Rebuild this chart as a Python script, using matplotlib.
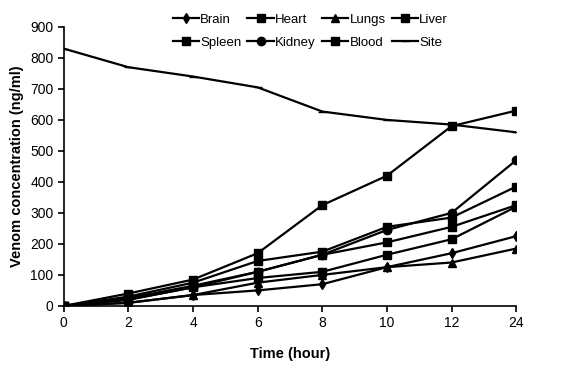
import numpy as np
import matplotlib.pyplot as plt

plt.rcParams['font.family'] = ['Liberation Sans Narrow', 'Liberation Sans', 'DejaVu Sans']

# time points (hours), evenly spaced as categories
times = ["0", "2", "4", "6", "8", "10", "12", "24"]

brain = [0, 10, 35, 50, 70, 125, 170, 225]
heart = [0, 20, 60, 90, 110, 165, 215, 320]
lungs = [0, 10, 35, 75, 100, 125, 140, 185]
liver = [0, 25, 65, 110, 165, 205, 255, 325]
spleen = [0, 30, 75, 145, 175, 255, 285, 385]
kidney = [0, 20, 60, 110, 165, 245, 300, 470]
blood = [0, 40, 85, 170, 325, 420, 580, 630]
site = [830, 770, 740, 705, 627, 600, 585, 560]

x = np.arange(len(times))

fig = plt.figure(figsize=(5.8, 3.69), dpi=100)
ax = fig.add_axes([0.110, 0.171, 0.780, 0.756])

series = [
    ("Brain", brain, "d", 5),
    ("Heart", heart, "s", 6),
    ("Lungs", lungs, "^", 6),
    ("Liver", liver, "s", 6),
    ("Spleen", spleen, "s", 6),
    ("Kidney", kidney, "o", 6),
    ("Blood", blood, "s", 6),
    ("Site", site, "_", 6),
]
handles = {}
for name, vals, m, ms in series:
    line, = ax.plot(x, vals, color="black", lw=1.6, marker=m, ms=ms, label=name)
    handles[name] = line

ax.set_xlim(0, 7)
ax.set_ylim(0, 900)
ax.set_xticks(x)
ax.set_xticklabels(times)
ax.set_yticks(np.arange(0, 901, 100))
ax.tick_params(labelsize=10, length=4, width=1.2, direction="out")
ax.spines["top"].set_visible(False)
ax.spines["right"].set_visible(False)
ax.spines["left"].set_linewidth(1.2)
ax.spines["bottom"].set_linewidth(1.2)

ax.set_xlabel("Time (hour)", fontsize=10.5, fontweight="bold", labelpad=12)
ax.set_ylabel("Venom concentration (ng/ml)", fontsize=10.5, fontweight="bold")

# legend filled row by row: reorder for column-major layout
order = ["Brain", "Spleen", "Heart", "Kidney", "Lungs", "Blood", "Liver", "Site"]
fig.legend([handles[n] for n in order], order, loc="upper center",
           bbox_to_anchor=(0.535, 0.995), ncol=4, frameon=False,
           fontsize=9.5, handlelength=2.0, handletextpad=0.1, columnspacing=0.45,
           labelspacing=0.8)

plt.savefig("out.png", dpi=100)
